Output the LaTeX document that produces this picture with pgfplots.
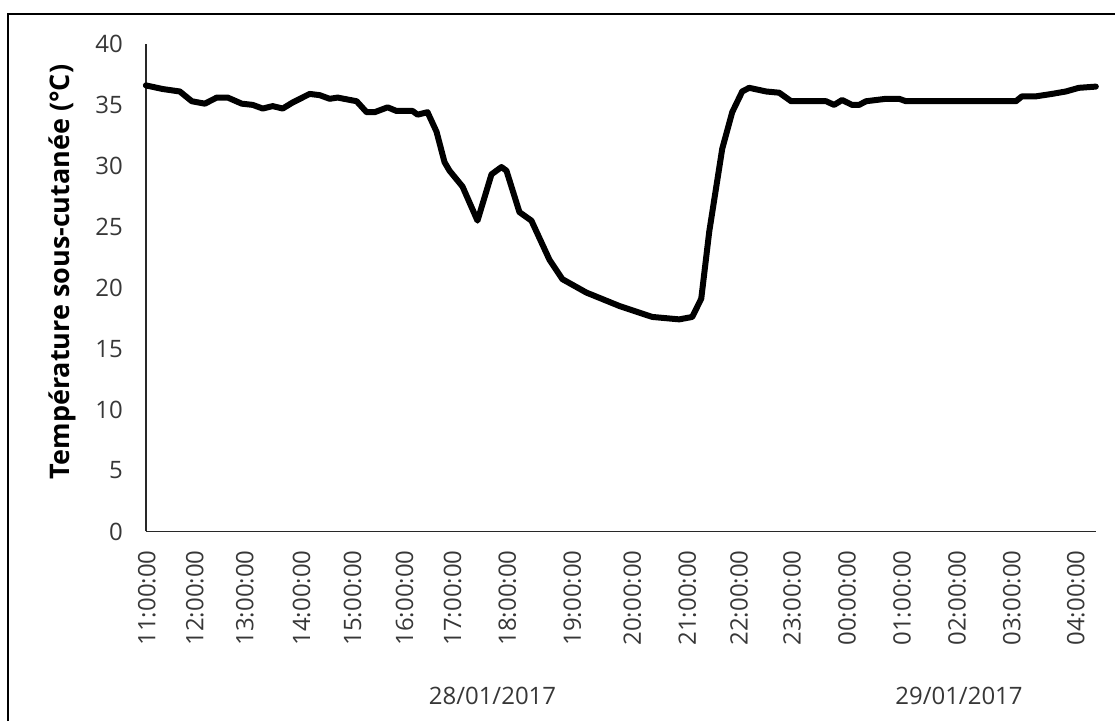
\documentclass[border=0pt]{standalone}
\usepackage{fontspec}
\setmainfont{Open Sans}
\usepackage{pgfplots}
\pgfplotsset{compat=1.18}
\definecolor{tickgray}{RGB}{55,55,55}
\definecolor{axisgray}{RGB}{40,40,40}
\begin{document}
\begin{tikzpicture}
\path (0,0) rectangle (558bp,361bp);
\draw[line width=1.2bp] (4bp,0) -- (4bp,354bp) -- (558bp,354bp);
\begin{axis}[
  at={(73bp,95bp)}, anchor=south west,
  scale only axis, width=475.5bp, height=244bp,
  xmin=146, xmax=1097, ymin=0, ymax=40,
  axis x line*=bottom, axis y line*=left,
  axis line style={axisgray, line width=0.8bp},
  major tick length=0pt,
  ytick={0,5,...,40},
  xtick={147,195,245,302,353,405,453,508,573,633,688,740,793,848,903,958,1013,1077},
  xticklabels={11:00:00,12:00:00,13:00:00,14:00:00,15:00:00,16:00:00,17:00:00,18:00:00,19:00:00,20:00:00,21:00:00,22:00:00,23:00:00,00:00:00,01:00:00,02:00:00,03:00:00,04:00:00},
  /pgf/number format/assume math mode=true,
  ticklabel style={font=\fontsize{12bp}{14bp}\selectfont, text=tickgray},
  xticklabel style={rotate=90, anchor=east},
  xticklabel shift=6bp,
  yticklabel shift=8bp,
  clip=false,
]
\addplot[black, line width=3bp, line join=round, line cap=round] coordinates {
(146,36.6) (163,36.3) (180,36.1) (192,35.3) (205,35.1) (217,35.6) (228,35.6)
(242,35.1) (253,35.0) (263,34.7) (273,34.9) (283,34.7) (293,35.2) (310,35.9)
(320,35.8) (330,35.5) (338,35.6) (357,35.3) (367,34.4) (375,34.4) (388,34.8)
(397,34.5) (413,34.5) (418,34.2) (428,34.4) (437,32.8) (445,30.3) (450,29.6)
(463,28.3) (478,25.5) (492,29.3) (502,29.9) (507,29.6) (520,26.2) (532,25.5)
(550,22.3) (563,20.7) (587,19.6) (620,18.5) (653,17.6) (680,17.4) (693,17.6)
(702,19.1) (710,24.6) (723,31.4) (733,34.4) (743,36.1) (750,36.4) (767,36.1)
(780,36.0) (792,35.3) (827,35.3) (835,35.0) (843,35.4) (853,35.0) (860,35.0)
(867,35.3) (887,35.5) (900,35.5) (907,35.3) (1017,35.3) (1023,35.7) (1037,35.7)
(1053,35.9) (1067,36.1) (1080,36.4) (1097,36.5)
};
\node[font=\fontsize{12bp}{14bp}\selectfont, text=tickgray, yshift=-82.5bp] at (axis cs:493,0) {28/01/2017};
\node[font=\fontsize{12bp}{14bp}\selectfont, text=tickgray, yshift=-82.5bp] at (axis cs:960,0) {29/01/2017};
\node[rotate=90, font=\bfseries\fontsize{13.5bp}{15bp}\selectfont] at (axis cs:62,21.3) {Température sous-cutanée (°C)};
\end{axis}
\end{tikzpicture}
\end{document}
